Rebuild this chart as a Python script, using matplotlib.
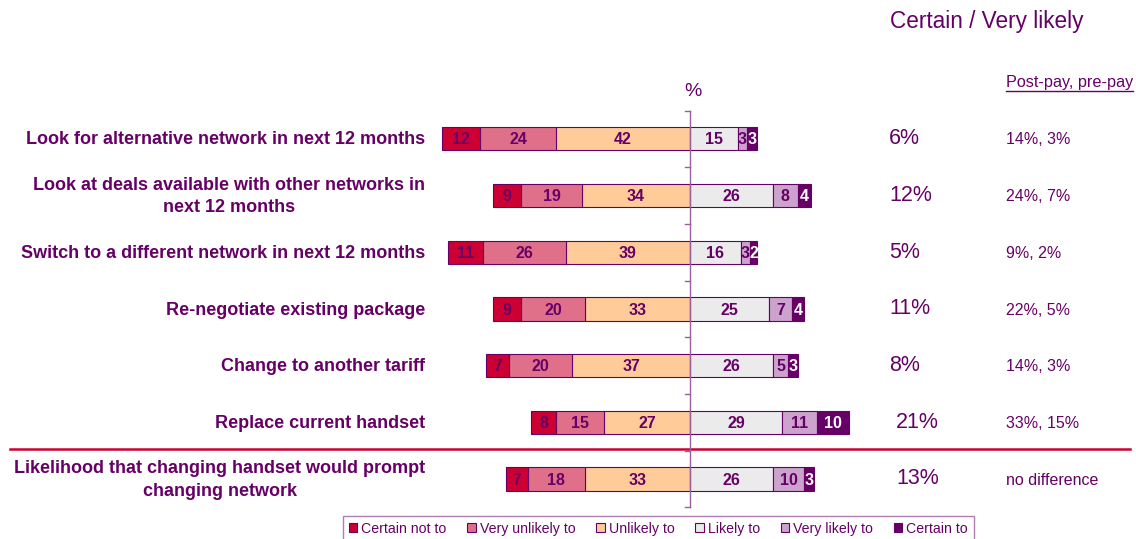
import numpy as np
import matplotlib.pyplot as plt
from matplotlib.patches import Patch

plt.rcParams['font.family'] = ['Liberation Sans', 'DejaVu Sans']

PURPLE = '#660066'

categories = [
    "Look for alternative network in next 12 months",
    "Look at deals available with other networks in\nnext 12 months",
    "Switch to a different network in next 12 months",
    "Re-negotiate existing package",
    "Change to another tariff",
    "Replace current handset",
    "Likelihood that changing handset would prompt\nchanging network",
]

# % answering each option
certain_not = [12, 9, 11, 9, 7, 8, 7]
very_unlikely = [24, 19, 26, 20, 20, 15, 18]
unlikely = [42, 34, 39, 33, 37, 27, 33]
likely = [15, 26, 16, 25, 26, 29, 26]
very_likely = [3, 8, 3, 7, 5, 11, 10]
certain = [3, 4, 2, 4, 3, 10, 3]

post_pre = ["14%, 3%", "24%, 7%", "9%, 2%", "22%, 5%", "14%, 3%",
            "33%, 15%", "no difference"]

legend_labels = ["Certain not to", "Very unlikely to", "Unlikely to",
                 "Likely to", "Very likely to", "Certain to"]
colors = ['#cc0033', '#e0708a', '#ffcc99', '#ebebeb', '#cca3cc', '#660066']
text_colors = [PURPLE, PURPLE, PURPLE, PURPLE, PURPLE, 'white']

fig = plt.figure(figsize=(11.36, 5.39), dpi=100)
ax = fig.add_axes([0, 0, 1, 1])
ax.set_xlim(-217.0, 140.3)
ax.set_ylim(7.06, -2.45)
ax.axis('off')

y = np.arange(len(categories))
h = 0.41

# left side stacks outward from zero, right side too
left_series = [unlikely, very_unlikely, certain_not]
left_idx = [2, 1, 0]
start = np.zeros(len(y))
for vals, k in zip(left_series, left_idx):
    vals = np.array(vals)
    ax.barh(y, -vals, left=-start, height=h, color=colors[k],
            edgecolor=PURPLE, linewidth=0.8, zorder=2)
    for yi, s, v in zip(y, start, vals):
        ax.text(-(s + v / 2), yi + 0.02, str(v), ha='center', va='center',
                fontsize=11.5, fontweight='bold', color=text_colors[k], zorder=3)
    start = start + vals

right_series = [likely, very_likely, certain]
right_idx = [3, 4, 5]
start = np.zeros(len(y))
for vals, k in zip(right_series, right_idx):
    vals = np.array(vals)
    ax.barh(y, vals, left=start, height=h, color=colors[k],
            edgecolor=PURPLE, linewidth=0.8, zorder=2)
    for yi, s, v in zip(y, start, vals):
        ax.text(s + v / 2, yi + 0.02, str(v), ha='center', va='center',
                fontsize=11.5, fontweight='bold', color=text_colors[k], zorder=3)
    start = start + vals

# centre axis with small ticks between rows
ax.plot([0, 0], [-0.5, 6.5], color='#9b5fa0', lw=1, zorder=4)
for b in np.arange(-0.5, 7, 1.0):
    ax.plot([-1.6, 0], [b, b], color='#9b5fa0', lw=1, zorder=4)
ax.text(0.8, -0.83, '%', ha='center', va='center', fontsize=14, color=PURPLE)

# category labels
for yi, cat in zip(y, categories):
    ax.text(-83.3, yi + 0.02, cat, ha='right', va='center',
            multialignment='center', fontsize=13, fontweight='bold',
            color=PURPLE, linespacing=1.4)

# separator above the last row
ax.plot([-213.8, 138.4], [5.47, 5.47], color='#cc0033', lw=1.8, zorder=1)

# certain / very likely totals
ax.text(62.9, -2.07, 'Certain / Very likely', ha='left', va='center',
        fontsize=16.3, color=PURPLE)
top2 = np.array(very_likely) + np.array(certain)
for yi, t in zip(y, top2):
    xpos = 64.8 if yi >= 5 else 62.6
    ax.text(xpos, yi, f'{t}%', ha='left', va='center',
            fontsize=15.5, color=PURPLE)
for yi, s in zip(y, post_pre):
    ax.text(99.4, yi + 0.02, s, ha='left', va='center', fontsize=11.5,
            color=PURPLE)

hdr = ax.text(99.4, -0.99, 'Post-pay, pre-pay', ha='left', va='center',
              fontsize=11.7, color=PURPLE)
fig.canvas.draw()
bb = hdr.get_window_extent().transformed(ax.transData.inverted())
ax.plot([bb.x0, bb.x1], [bb.y0 + 0.02, bb.y0 + 0.02], color=PURPLE, lw=1)

handles = [Patch(facecolor=c, edgecolor=PURPLE, linewidth=0.8) for c in colors]
leg = fig.legend(handles, legend_labels, loc='upper left',
                 bbox_to_anchor=(343 / 1136, 1 - 516 / 539), ncol=6,
                 fontsize=10.2, handlelength=0.6, handleheight=0.6,
                 handletextpad=0.3, columnspacing=1.45, borderpad=0.4,
                 borderaxespad=0, fancybox=False, frameon=True)
leg.get_frame().set_edgecolor('#9b5fa0')
leg.get_frame().set_linewidth(1.0)
for t in leg.get_texts():
    t.set_color(PURPLE)

fig.savefig('out.png', dpi=100)
